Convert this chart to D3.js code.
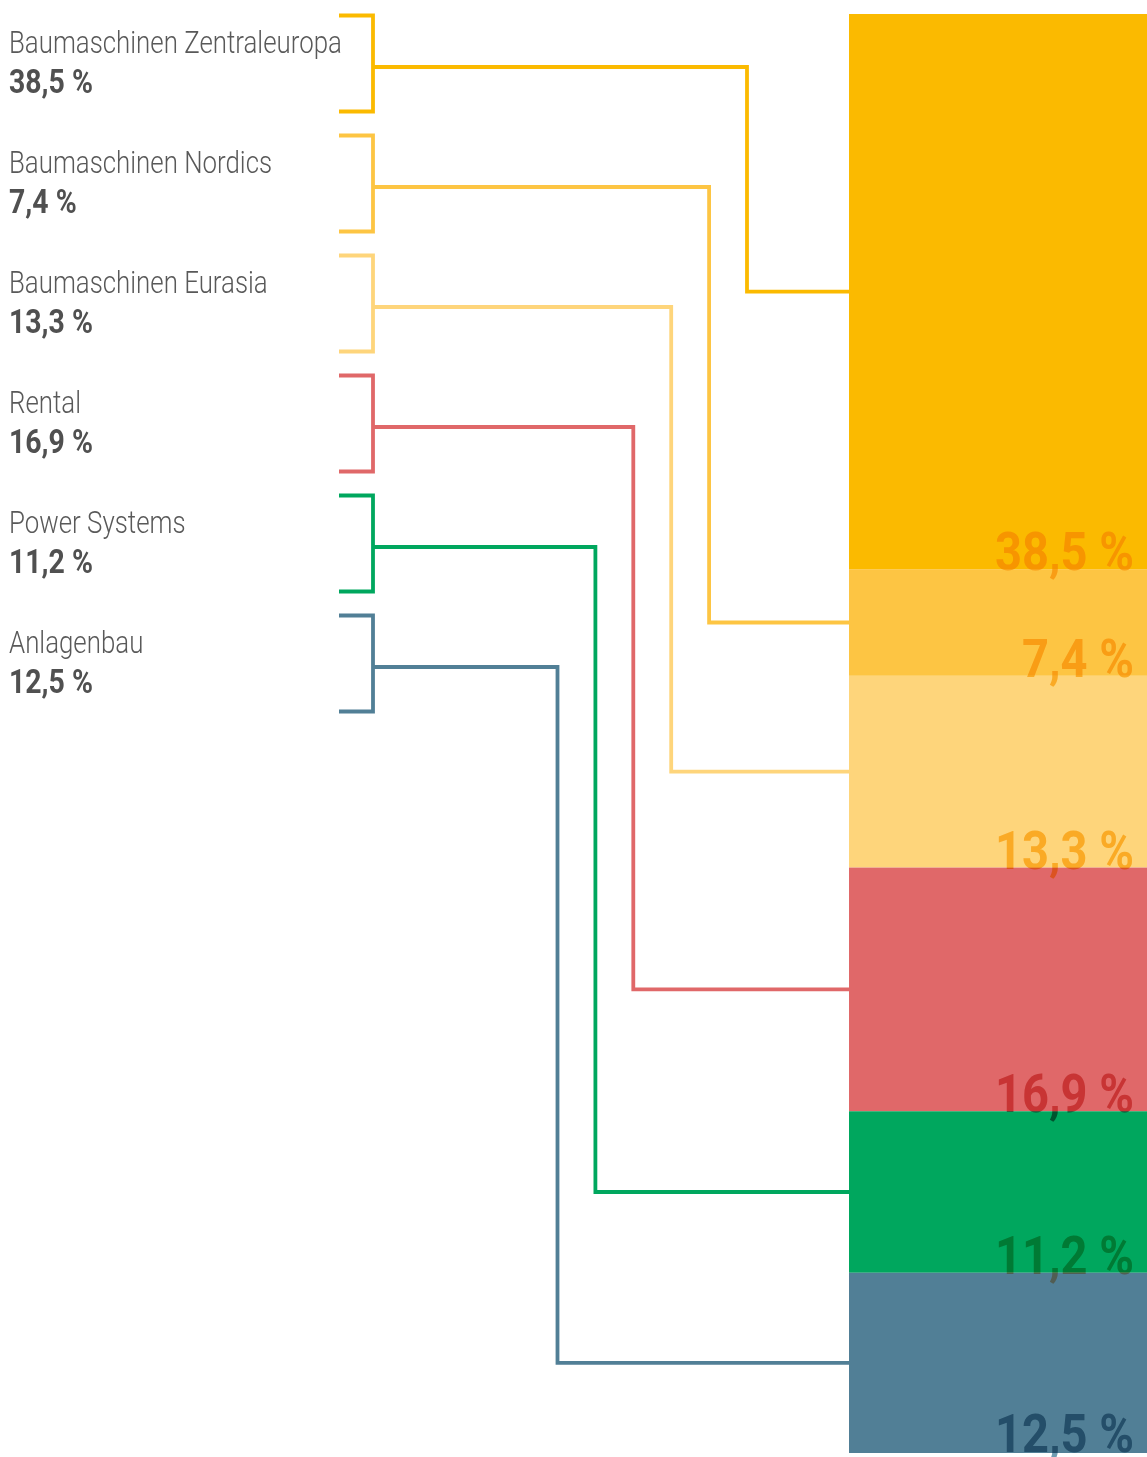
<!DOCTYPE html>
<html><head><meta charset="utf-8">
<script src="https://cdn.jsdelivr.net/npm/d3@7/dist/d3.min.js"></script>
<style>
html,body{margin:0;padding:0;background:#fff;}
svg{display:block;}
.big{mix-blend-mode:multiply;}
</style></head>
<body>
<svg id="chart" width="1147" height="1457"></svg>
<script>
const categories = ["Baumaschinen Zentraleuropa","Baumaschinen Nordics","Baumaschinen Eurasia","Rental","Power Systems","Anlagenbau"];
const values = [38.5, 7.4, 13.3, 16.9, 11.2, 12.5];
const valueLabels = ["38,5 %","7,4 %","13,3 %","16,9 %","11,2 %","12,5 %"];
const colors = ["#FBBA00","#FDC543","#FED57B","#E06869","#00A75E","#517F96"];
const labelInk = ["#FBCC4D","#FBCC4D","#FBCC4D","#E4807E","#FFBA8C","#709DB2"];

const W = 1147, H = 1457;
const svg = d3.select("#chart");
const total = d3.sum(values);
const y = d3.scaleLinear().domain([0, total]).range([14, 1453]);
const barX0 = 849, barX1 = 1147;

let acc = 0;
const segs = values.map((v,i)=>{ const s={i, v, y0:acc, y1:acc+v}; acc+=v; return s; });

const fontReg = "Roboto, 'Liberation Sans', sans-serif";

// bars
svg.selectAll("rect.seg").data(segs).join("rect")
  .attr("class","seg")
  .attr("x", barX0).attr("width", barX1-barX0)
  .attr("y", d=>y(d.y0)).attr("height", d=>y(d.y1)-y(d.y0))
  .attr("fill", d=>colors[d.i]);

function measure(text, size, weight){
  const t = svg.append("text").attr("font-family",fontReg).attr("font-size",size).attr("font-weight",weight).text(text);
  const w = t.node().getComputedTextLength(); t.remove(); return w;
}
const regScale = 333 / measure(categories[0], 31, 300);
const boldScale = 84 / measure(valueLabels[0], 33, 700);
const bigScale = 139 / measure(valueLabels[0], 54, 700);

const rowStep = 120, rowTop0 = 15.5, bracketH = 96, stubOff = 51.5;
const brL = 339, brR = 373;
const vx0 = 747, vxStep = 37.9;
const sw = 3.8;

segs.forEach(d=>{
  const top = rowTop0 + rowStep*d.i;
  const g = svg.append("g");
  g.append("text").attr("transform",`translate(9,${53+rowStep*d.i}) scale(${regScale},1)`)
    .attr("font-family",fontReg).attr("font-size",31).attr("font-weight",300)
    .attr("fill","#595959").text(categories[d.i]);
  g.append("text").attr("transform",`translate(9,${93+rowStep*d.i}) scale(${boldScale},1)`)
    .attr("font-family",fontReg).attr("font-size",33).attr("font-weight",700)
    .attr("fill","#505050").text(valueLabels[d.i]);
  g.append("path").attr("d",`M${brL},${top}H${brR}V${top+bracketH}H${brL}`)
    .attr("fill","none").attr("stroke",colors[d.i]).attr("stroke-width",sw);
  const sy = top + stubOff;
  const vx = vx0 - vxStep*d.i;
  const my = (y(d.y0)+y(d.y1))/2;
  g.append("path").attr("d",`M${brR},${sy}H${vx}V${my}H${barX0}`)
    .attr("fill","none").attr("stroke",colors[d.i]).attr("stroke-width",sw);
});

segs.forEach(d=>{
  svg.append("text").attr("class","big")
    .attr("transform",`translate(1134,${Math.min(y(d.y1)+1, 1452)}) scale(${bigScale},1)`)
    .attr("text-anchor","end")
    .attr("font-family",fontReg).attr("font-size",54).attr("font-weight",700)
    .attr("fill",labelInk[d.i]).text(valueLabels[d.i]);
});
</script>
</body></html>
